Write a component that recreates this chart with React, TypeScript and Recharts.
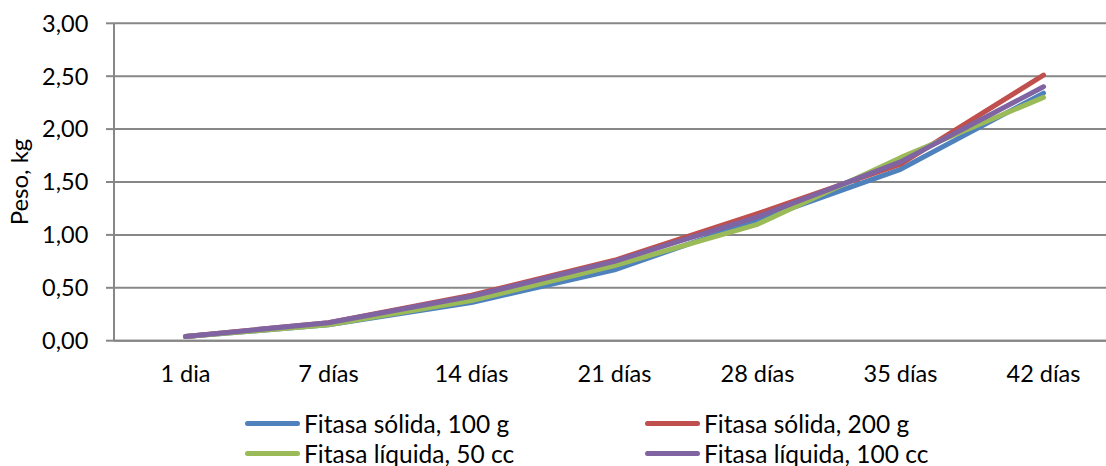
import React from 'react';
import { LineChart, Line, XAxis, YAxis, CartesianGrid, Label } from 'recharts';

// Categories (age of the birds)
const days = ['1 dia', '7 días', '14 días', '21 días', '28 días', '35 días', '42 días'];

// Body weight, kg, per treatment
const solida100 = [0.04, 0.15, 0.36, 0.67, 1.14, 1.62, 2.34];
const solida200 = [0.04, 0.17, 0.43, 0.76, 1.2, 1.67, 2.51];
const liquida50 = [0.04, 0.15, 0.38, 0.71, 1.1, 1.73, 2.3];
const liquida100 = [0.04, 0.17, 0.42, 0.75, 1.17, 1.69, 2.4];

// Y axis ticks
const yTicks = [0, 0.5, 1, 1.5, 2, 2.5, 3];

const seriesNames = [
  'Fitasa sólida, 100 g',
  'Fitasa sólida, 200 g',
  'Fitasa líquida, 50 cc',
  'Fitasa líquida, 100 cc',
];
const seriesColors = ['#4F81BD', '#C0504D', '#9BBB59', '#8064A2'];
const seriesKeys = ['s100', 's200', 'l50', 'l100'];
const seriesValues = [solida100, solida200, liquida50, liquida100];

const data = days.map((day, i) => {
  const row: Record<string, string | number> = { day };
  seriesKeys.forEach((k, j) => {
    row[k] = seriesValues[j][i];
  });
  return row;
});

const FONT = 'Lato, "Liberation Sans", sans-serif';
const GRID = '#878787';

const fmt = (v: number) => v.toFixed(2).replace('.', ',');

// Legend laid out in two columns, two rows
const legendCols = [245, 645];
const legendRows = [423, 453];

export default function App() {
  return (
    <div
      style={{
        position: 'absolute',
        left: 0,
        top: 0,
        width: 1106,
        height: 466,
        overflow: 'hidden',
        background: '#fff',
        fontFamily: FONT,
      }}
    >
      <LineChart
        width={1120}
        height={466}
        data={data}
        margin={{ top: 23.3, right: 5, left: 0, bottom: 0 }}
      >
        <CartesianGrid vertical={false} stroke={GRID} strokeWidth={2} />
        <XAxis
          dataKey="day"
          height={125.3}
          padding={{ left: 71.5, right: 71.5 }}
          axisLine={{ stroke: GRID, strokeWidth: 2 }}
          tickLine={false}
          tickSize={0}
          tickMargin={25}
          tick={{ fill: '#000', fontSize: 23.5, fontFamily: FONT }}
          interval={0}
        />
        <YAxis
          width={114}
          domain={[0, 3]}
          ticks={yTicks}
          interval={0}
          tickFormatter={fmt}
          axisLine={{ stroke: GRID, strokeWidth: 2 }}
          tickLine={{ stroke: GRID, strokeWidth: 2 }}
          tickSize={8}
          tickMargin={17.7}
          tick={{ fill: '#000', fontSize: 23.5, fontFamily: FONT }}
        >
          <Label
            content={(props: any) => {
              const vb = props.viewBox || { y: 23.3, height: 317.4 };
              const cy = vb.y + vb.height / 2;
              return (
                <text
                  x={28}
                  y={cy}
                  transform={`rotate(-90 28 ${cy})`}
                  textAnchor="middle"
                  fill="#000"
                  fontSize={24}
                  fontFamily={FONT}
                >
                  Peso, kg
                </text>
              );
            }}
          />
        </YAxis>
        {seriesKeys.map((k, j) => (
          <Line
            key={k}
            type="linear"
            dataKey={k}
            name={seriesNames[j]}
            stroke={seriesColors[j]}
            strokeWidth={5}
            strokeLinecap="round"
            strokeLinejoin="round"
            dot={false}
            activeDot={false}
            isAnimationActive={false}
          />
        ))}
      </LineChart>
      {seriesNames.map((name, j) => (
        <div
          key={name}
          style={{
            position: 'absolute',
            left: legendCols[j % 2],
            top: legendRows[Math.floor(j / 2)] - 15,
            height: 30,
            display: 'flex',
            alignItems: 'center',
            whiteSpace: 'nowrap',
            fontSize: 24.5,
            color: '#000',
          }}
        >
          <div
            style={{
              width: 55,
              height: 5,
              borderRadius: 3,
              background: seriesColors[j],
              marginRight: 4,
            }}
          />
          <span>{name}</span>
        </div>
      ))}
    </div>
  );
}
